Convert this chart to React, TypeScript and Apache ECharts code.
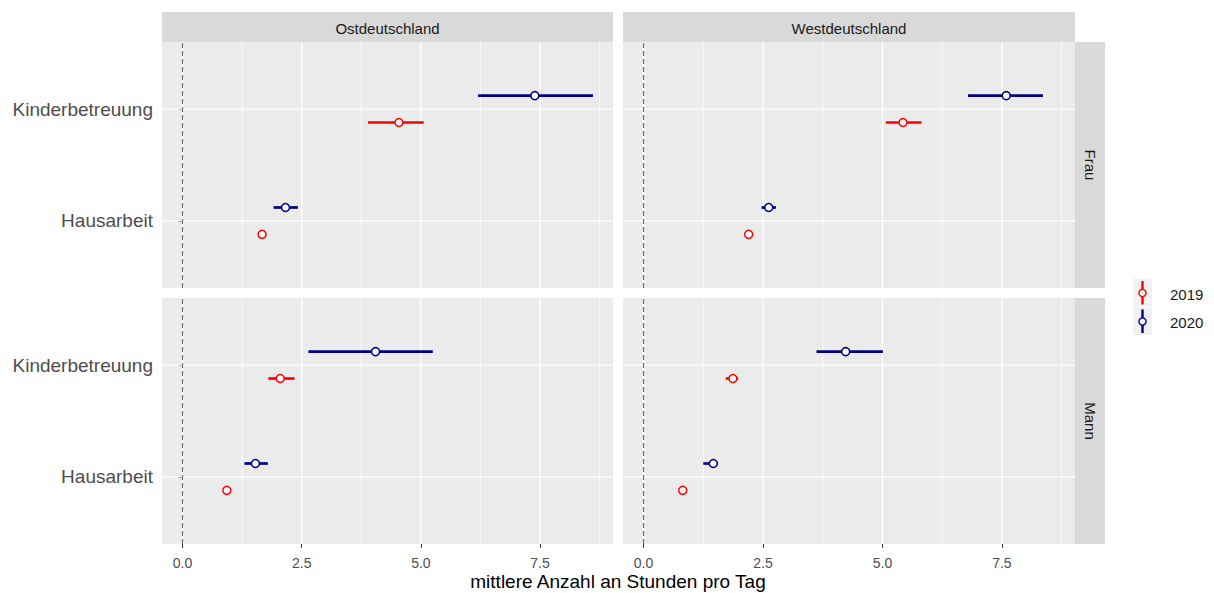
import React, { useEffect, useRef } from "react";
import * as echarts from "echarts";

// ---------- data ----------
const regions = ["Ostdeutschland", "Westdeutschland"];
const genders = ["Frau", "Mann"];
const activities = ["Hausarbeit", "Kinderbetreuung"];
const years = ["2019", "2020"];
const xTicks = [0, 2.5, 5, 7.5];
const xMinorTicks = [1.25, 3.75, 6.25, 8.75];
const yTicks = [1, 2];

// [mean, lower, upper] for [Hausarbeit, Kinderbetreuung]
const ostFrau2019 = [[1.67, 1.6, 1.74], [4.54, 3.89, 5.06]];
const ostFrau2020 = [[2.16, 1.91, 2.42], [7.39, 6.2, 8.61]];
const westFrau2019 = [[2.2, 2.13, 2.27], [5.43, 5.07, 5.82]];
const westFrau2020 = [[2.62, 2.47, 2.77], [7.59, 6.79, 8.36]];
const ostMann2019 = [[0.93, 0.87, 0.99], [2.05, 1.8, 2.35]];
const ostMann2020 = [[1.53, 1.3, 1.79], [4.05, 2.64, 5.25]];
const westMann2019 = [[0.82, 0.77, 0.87], [1.87, 1.72, 1.98]];
const westMann2020 = [[1.46, 1.25, 1.56], [4.23, 3.62, 5.01]];

// panels: order TL, TR, BL, BR
const panelData = [
  [ostFrau2019, ostFrau2020],
  [westFrau2019, westFrau2020],
  [ostMann2019, ostMann2020],
  [westMann2019, westMann2020],
];

const X_MIN = -0.43;
const X_MAX = 9.03;
const Y_MIN = 0.4;
const Y_MAX = 2.6;
const DODGE = 0.12;

const yearColors = ["#FF0000", "#000080"];
const FONT = "Liberation Sans, Arimo, Arial, sans-serif";

const grids = [
  { left: 162, top: 42, width: 451, height: 246 },
  { left: 623, top: 42, width: 452, height: 246 },
  { left: 162, top: 298, width: 451, height: 246 },
  { left: 623, top: 298, width: 452, height: 246 },
];

export default function App() {
  const ref = useRef<HTMLDivElement>(null);

  useEffect(() => {
    if (!ref.current) return;
    const chart = echarts.init(ref.current, null, { renderer: "svg" });

    const xAxes: any[] = [];
    const yAxes: any[] = [];
    const series: any[] = [];

    const vLine = (width: number, color: string, dash?: number[]) => (p: any, api: any) => {
      const v = api.value(0);
      const a = api.coord([v, Y_MIN]);
      const b = api.coord([v, Y_MAX]);
      return {
        type: "line",
        shape: { x1: a[0], y1: a[1], x2: b[0], y2: b[1] },
        style: { stroke: color, lineWidth: width, lineDash: dash },
      };
    };

    grids.forEach((g, i) => {
      const isBottom = i >= 2;
      const isLeft = i % 2 === 0;
      xAxes.push({
        type: "value",
        gridIndex: i,
        min: X_MIN,
        max: X_MAX,
        axisLine: { show: false },
        splitLine: { show: false },
        axisTick: {
          show: isBottom,
          customValues: xTicks,
          length: 4,
          lineStyle: { color: "#333333", width: 1 },
        },
        axisLabel: {
          show: isBottom,
          customValues: xTicks,
          formatter: (v: number) => v.toFixed(1),
          color: "#4D4D4D",
          fontSize: 14,
          fontFamily: FONT,
          margin: 12,
        },
      });
      yAxes.push({
        type: "value",
        gridIndex: i,
        min: Y_MIN,
        max: Y_MAX,
        axisLine: { show: false },
        splitLine: { show: false },
        axisTick: {
          show: isLeft,
          customValues: yTicks,
          length: 4,
          lineStyle: { color: "#333333", width: 1 },
        },
        axisLabel: {
          show: isLeft,
          customValues: yTicks,
          formatter: (v: number) => activities[Math.round(v) - 1] || "",
          color: "#4D4D4D",
          fontSize: 19,
          fontFamily: FONT,
          margin: 9,
        },
      });

      // minor vertical gridlines
      series.push({
        type: "custom",
        xAxisIndex: i,
        yAxisIndex: i,
        silent: true,
        z: 1,
        data: xMinorTicks.map((v) => [v, 1]),
        encode: { x: 0, y: 1 },
        renderItem: vLine(0.7, "#FFFFFF"),
      });
      // major vertical gridlines
      series.push({
        type: "custom",
        xAxisIndex: i,
        yAxisIndex: i,
        silent: true,
        z: 1,
        data: xTicks.map((v) => [v, 1]),
        encode: { x: 0, y: 1 },
        renderItem: vLine(1.4, "#FFFFFF"),
      });
      // major horizontal gridlines
      series.push({
        type: "custom",
        xAxisIndex: i,
        yAxisIndex: i,
        silent: true,
        z: 1,
        data: yTicks.map((v) => [0, v]),
        encode: { x: 0, y: 1 },
        renderItem: (p: any, api: any) => {
          const v = api.value(1);
          const a = api.coord([X_MIN, v]);
          const b = api.coord([X_MAX, v]);
          return {
            type: "line",
            shape: { x1: a[0], y1: a[1], x2: b[0], y2: b[1] },
            style: { stroke: "#FFFFFF", lineWidth: 1.4 },
          };
        },
      });
      // dashed zero line
      series.push({
        type: "custom",
        xAxisIndex: i,
        yAxisIndex: i,
        silent: true,
        z: 2,
        data: [[0, 1]],
        encode: { x: 0, y: 1 },
        renderItem: vLine(1.2, "#6E6E6E", [5, 3]),
      });

      // error bars + points
      years.forEach((yr, yi) => {
        const color = yearColors[yi];
        const vals = panelData[i][yi];
        series.push({
          type: "custom",
          name: yr,
          xAxisIndex: i,
          yAxisIndex: i,
          z: 3,
          data: vals.map((t, ai) => [t[0], t[1], t[2], ai + 1 + (yi === 0 ? -DODGE : DODGE)]),
          encode: { x: [0, 1, 2], y: 3 },
          renderItem: (p: any, api: any) => {
            const y = api.value(3);
            const a = api.coord([api.value(1), y]);
            const b = api.coord([api.value(2), y]);
            const m = api.coord([api.value(0), y]);
            return {
              type: "group",
              children: [
                {
                  type: "line",
                  shape: { x1: a[0], y1: a[1], x2: b[0], y2: b[1] },
                  style: { stroke: color, lineWidth: 2.7 },
                },
                {
                  type: "circle",
                  shape: { cx: m[0], cy: m[1], r: 4 },
                  style: { fill: "#FFFFFF", stroke: color, lineWidth: 1.5 },
                },
              ],
            };
          },
        });
      });
    });

    const graphics: any[] = [];
    // top strips
    [0, 1].forEach((c) => {
      const g = grids[c];
      graphics.push({
        type: "rect",
        shape: { x: g.left, y: 12, width: g.width, height: 30 },
        style: { fill: "#D9D9D9" },
        silent: true,
      });
      graphics.push({
        type: "text",
        x: g.left + g.width / 2,
        y: 28,
        style: {
          text: regions[c],
          fill: "#1A1A1A",
          fontSize: 15,
          fontFamily: FONT,
          align: "center",
          verticalAlign: "middle",
        },
        silent: true,
      });
    });
    // right strips
    [1, 3].forEach((gi, r) => {
      const g = grids[gi];
      graphics.push({
        type: "rect",
        shape: { x: g.left + g.width, y: g.top, width: 30, height: g.height },
        style: { fill: "#D9D9D9" },
        silent: true,
      });
      graphics.push({
        type: "text",
        x: g.left + g.width + 15,
        y: g.top + g.height / 2,
        rotation: -Math.PI / 2,
        style: {
          text: genders[r],
          fill: "#1A1A1A",
          fontSize: 15,
          fontFamily: FONT,
          align: "center",
          verticalAlign: "middle",
        },
        silent: true,
      });
    });
    // x axis title
    graphics.push({
      type: "text",
      x: 618,
      y: 581,
      style: {
        text: "mittlere Anzahl an Stunden pro Tag",
        fill: "#000000",
        fontSize: 19,
        fontFamily: FONT,
        align: "center",
        verticalAlign: "middle",
      },
      silent: true,
    });
    // legend
    years.forEach((yr, yi) => {
      const top = 279 + yi * 28.5;
      const cx = 1142.5;
      const cy = top + 14;
      graphics.push({
        type: "rect",
        shape: { x: 1133, y: top, width: 19, height: 27.5 },
        style: { fill: "#F2F2F2" },
        silent: true,
      });
      graphics.push({
        type: "line",
        shape: { x1: cx, y1: top + 2, x2: cx, y2: top + 25.5 },
        style: { stroke: yearColors[yi], lineWidth: 2.4 },
        silent: true,
      });
      graphics.push({
        type: "circle",
        shape: { cx, cy, r: 3.6 },
        style: { fill: "#FFFFFF", stroke: yearColors[yi], lineWidth: 1.4 },
        silent: true,
      });
      graphics.push({
        type: "text",
        x: 1170,
        y: cy + 1,
        style: {
          text: yr,
          fill: "#1A1A1A",
          fontSize: 15,
          fontFamily: FONT,
          align: "left",
          verticalAlign: "middle",
        },
        silent: true,
      });
    });

    chart.setOption({
      animation: false,
      backgroundColor: "#FFFFFF",
      grid: grids.map((g) => ({
        ...g,
        show: true,
        backgroundColor: "#EBEBEB",
        borderWidth: 0,
        containLabel: false,
      })),
      xAxis: xAxes,
      yAxis: yAxes,
      series,
      graphic: graphics,
    });

    return () => chart.dispose();
  }, []);

  return (
    <div
      ref={ref}
      style={{ position: "absolute", left: 0, top: 0, width: 1214, height: 593, background: "#FFFFFF" }}
    />
  );
}
